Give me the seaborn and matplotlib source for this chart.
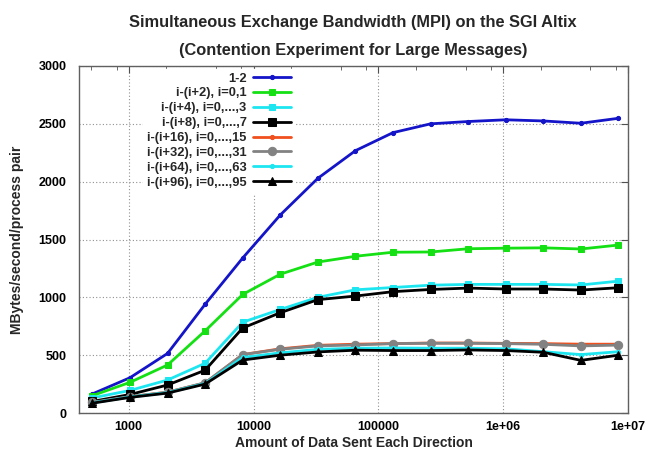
import numpy as np
import pandas as pd
import matplotlib
matplotlib.use("Agg")
import matplotlib.pyplot as plt
import matplotlib.ticker as mticker
import seaborn as sns

# ---- data ----
msg_sizes = [512, 1024, 2048, 4096, 8192, 16384, 32768, 65536, 131072, 262144,
             524288, 1048576, 2097152, 4194304, 8388608]
series_names = ["1-2", "i-(i+2), i=0,1", "i-(i+4), i=0,...,3", "i-(i+8), i=0,...,7",
                "i-(i+16), i=0,...,15", "i-(i+32), i=0,...,31",
                "i-(i+64), i=0,...,63", "i-(i+96), i=0,...,95"]
bw_1_2 = [165, 305, 515, 940, 1340, 1712, 2029, 2268, 2424, 2500, 2520, 2535, 2525, 2505, 2548]
bw_p2 = [150, 265, 415, 710, 1025, 1200, 1305, 1355, 1390, 1392, 1420, 1425, 1428, 1418, 1452]
bw_p4 = [130, 195, 285, 430, 785, 895, 1000, 1065, 1085, 1105, 1112, 1112, 1112, 1107, 1140]
bw_p8 = [100, 160, 242, 370, 735, 867, 980, 1011, 1049, 1068, 1080, 1072, 1072, 1063, 1083]
bw_p16 = [90, 140, 180, 260, 505, 555, 585, 595, 600, 605, 605, 602, 600, 595, 595]
bw_p32 = [92, 142, 180, 262, 505, 551, 580, 588, 600, 603, 603, 600, 594, 580, 587]
bw_p64 = [88, 138, 176, 255, 480, 520, 550, 560, 562, 560, 560, 555, 530, 505, 530]
bw_p96 = [85, 135, 172, 250, 458, 500, 528, 543, 540, 540, 545, 540, 525, 455, 500]
x_ticks = [1000, 10000, 100000, 1000000, 10000000]
x_ticklabels = ["1000", "10000", "100000", "1e+06", "1e+07"]
y_ticks = [0, 500, 1000, 1500, 2000, 2500, 3000]

all_series = [bw_1_2, bw_p2, bw_p4, bw_p8, bw_p16, bw_p32, bw_p64, bw_p96]
colors = ["#1414C8", "#14E014", "#1EE6F0", "#000000", "#F0501E", "#828282", "#1EE6F0", "#000000"]
markers = ["o", "s", "s", "s", "o", "o", "o", "^"]
msizes = [3, 4, 4.5, 6, 3, 6, 3, 5.5]

sns.set_theme(style="white")
plt.rcParams["font.family"] = ["Liberation Sans", "DejaVu Sans"]
plt.rcParams["font.weight"] = "bold"

fig = plt.figure(figsize=(6.49, 4.53), dpi=100)
ax = fig.add_axes([79/649, 1-413/453, (628-79)/649, (413-66)/453])

handles = []
for name, vals, c, m, ms in zip(series_names, all_series, colors, markers, msizes):
    df = pd.DataFrame({"size": msg_sizes, "bw": vals})
    sns.lineplot(data=df, x="size", y="bw", ax=ax, color=c, marker=m, markersize=ms,
                 markeredgecolor=c, linewidth=2.0, label=name, legend=False)
    handles.append(ax.lines[-1])

ax.set_xscale("log")
ax.set_xlim(400, 1e7)
ax.set_ylim(0, 3000)
ax.set_xticks(x_ticks)
ax.set_xticklabels(x_ticklabels)
ax.xaxis.set_minor_locator(mticker.LogLocator(base=10, subs=[2.0, 5.0, 8.0]))
ax.xaxis.set_minor_formatter(mticker.NullFormatter())
ax.set_yticks(y_ticks)
ax.set_yticklabels([str(v) for v in y_ticks])

ax.tick_params(axis="both", which="both", direction="in", top=True, right=True,
               labelsize=9, colors="#505050", labelcolor="black")
ax.tick_params(axis="both", which="major", length=5, width=0.8)
ax.tick_params(axis="y", which="major", pad=9)
ax.tick_params(axis="x", which="major", pad=6)
ax.tick_params(axis="x", which="minor", length=3, width=0.6)
for lab in ax.get_xticklabels() + ax.get_yticklabels():
    lab.set_fontweight("bold")

ax.grid(True, which="major", color="#909090", linestyle=(0, (1, 2)), linewidth=0.8)
for s in ax.spines.values():
    s.set_color("#606060")
    s.set_linewidth(1.0)

ax.set_xlabel("Amount of Data Sent Each Direction", fontsize=10, fontweight="bold", labelpad=2)
ax.set_ylabel("MBytes/second/process pair", fontsize=10, fontweight="bold")
ax.yaxis.set_label_coords(-(79-24)/549, 0.5)

fig.text(353/649, 1-22/453, "Simultaneous Exchange Bandwidth (MPI) on the SGI Altix",
         ha="center", va="center", fontsize=11.8, fontweight="bold")
fig.text(353/649, 1-50/453, "(Contention Experiment for Large Messages)",
         ha="center", va="center", fontsize=11.8, fontweight="bold")

leg = ax.legend(handles=handles, labels=series_names, loc="upper right",
                bbox_to_anchor=((297-79)/549, 1.0), markerfirst=False,
                frameon=True, fontsize=9.3, handlelength=2.9, handletextpad=0.5,
                labelspacing=0.22, borderaxespad=0.2, borderpad=0.3)
leg.get_frame().set_facecolor("white")
leg.get_frame().set_edgecolor("white")
leg.get_frame().set_alpha(1.0)
for t in leg.get_texts():
    t.set_fontweight("bold")

fig.savefig("out.png", dpi=100)
